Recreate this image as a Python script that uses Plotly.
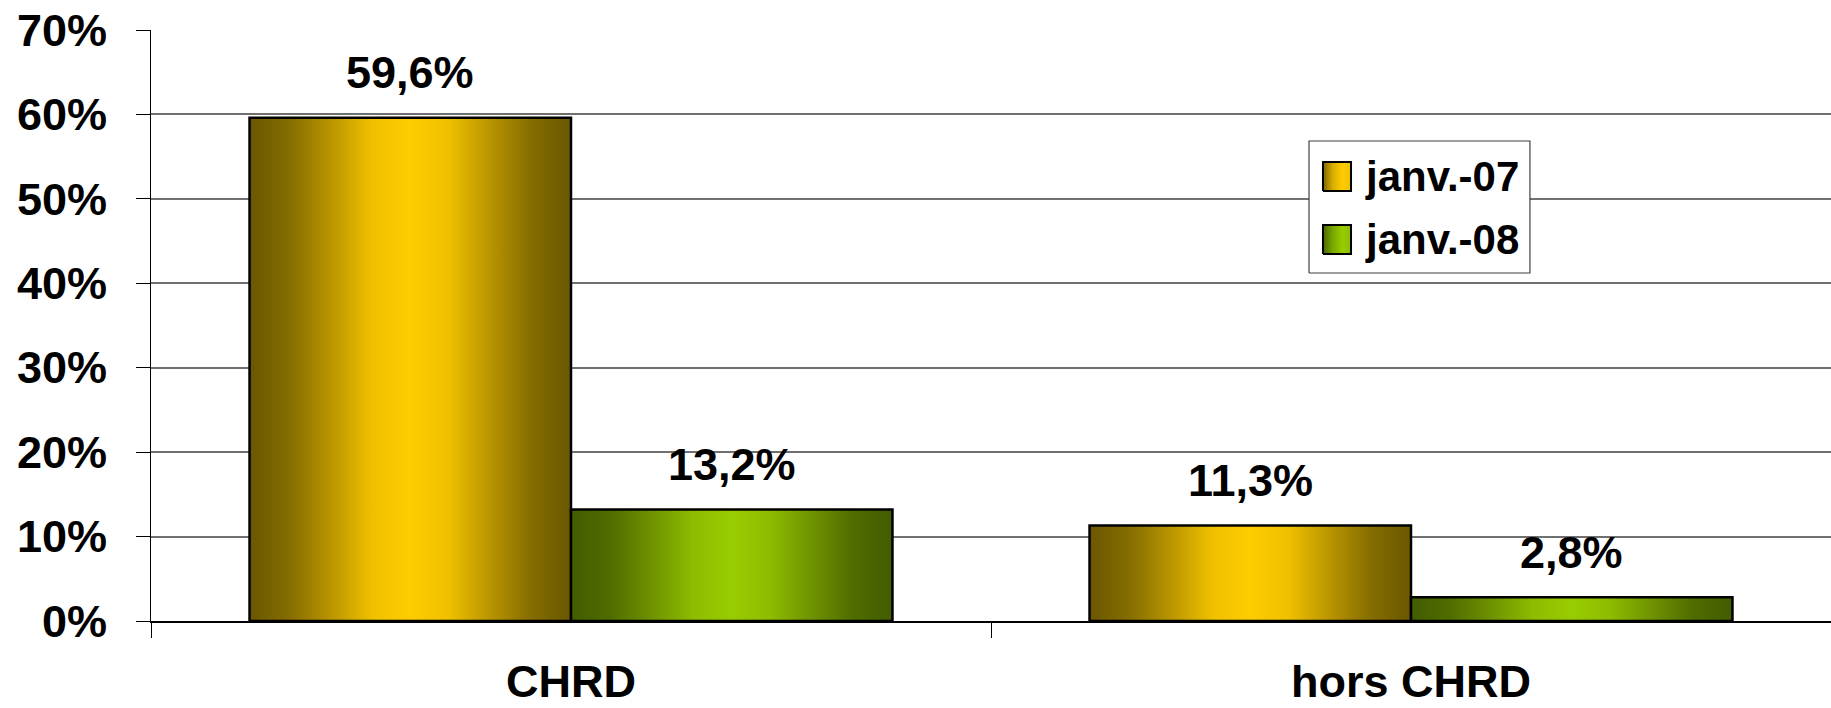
import plotly.graph_objects as go

# --- data -------------------------------------------------------------
categories = ["CHRD", "hors CHRD"]
series_names = ["janv.-07", "janv.-08"]
values_jan07 = [59.6, 11.3]
values_jan08 = [13.2, 2.8]
y_tick_values = [0, 10, 20, 30, 40, 50, 60, 70]

# --- styling ----------------------------------------------------------
FONT = "Arial, 'Liberation Sans', sans-serif"
GOLD_SCALE = [
    [0.00, "#6a5700"], [0.12, "#836c00"], [0.25, "#b89400"],
    [0.38, "#efc000"], [0.50, "#ffcc00"], [0.62, "#efc000"],
    [0.75, "#b89400"], [0.88, "#836c00"], [1.00, "#6a5700"],
]
GREEN_SCALE = [
    [0.00, "#435c00"], [0.12, "#4f6c00"], [0.25, "#6e9200"],
    [0.38, "#8dbc00"], [0.50, "#99cc00"], [0.62, "#8dbc00"],
    [0.75, "#6e9200"], [0.88, "#4f6c00"], [1.00, "#435c00"],
]
# swatch gradients are lighter on the right, as in the key
GOLD_SWATCH = [[0.0, "#7a6400"], [0.35, "#d8ae00"], [0.7, "#ffcc00"], [1.0, "#f0c000"]]
GREEN_SWATCH = [[0.0, "#4a6500"], [0.35, "#7aa800"], [0.7, "#99cc00"], [1.0, "#8cbc00"]]
BAR_WIDTH = 0.3827  # width of one bar in category units

series = [
    (series_names[0], values_jan07, GOLD_SCALE, GOLD_SWATCH, -1),
    (series_names[1], values_jan08, GREEN_SCALE, GREEN_SWATCH, 0),
]

# key box placement, as fractions of the plotting area
KEY_BOX = (0.6893, 0.8208, 0.5888, 0.8122)   # x0, x1, y0, y1
KEY_ROWS_Y = [0.7521, 0.6455]                # row centres
KEY_SWATCH_X = (0.6976, 0.7143)
KEY_SWATCH_H = 0.049
KEY_TEXT_X = 0.7214


def pct_label(v):
    return f"{v:.1f}".replace(".", ",") + "%"


fig = go.Figure()
annotations = []

for name, vals, scale, swatch, side in series:
    for i, v in enumerate(vals):
        x0 = i + side * BAR_WIDTH
        x1 = x0 + BAR_WIDTH
        fig.add_trace(go.Scatter(
            x=[x0, x1, x1, x0, x0],
            y=[0, 0, v, v, 0],
            mode="lines",
            fill="toself",
            fillgradient=dict(type="horizontal", colorscale=scale),
            line=dict(color="black", width=2.5),
            name=name, showlegend=False,
            hoverinfo="skip",
        ))
        annotations.append(dict(
            x=(x0 + x1) / 2, y=v, xref="x", yref="y",
            text=f"<b>{pct_label(v)}</b>", showarrow=False,
            yanchor="middle", yshift=45,
            font=dict(family=FONT, size=45, color="black"),
        ))

# --- key (drawn on an overlay axis spanning the plotting area) ----------
bx0, bx1, by0, by1 = KEY_BOX
fig.add_trace(go.Scatter(
    x=[bx0, bx1, bx1, bx0, bx0], y=[by0, by0, by1, by1, by0],
    xaxis="x2", yaxis="y2", mode="lines", fill="toself",
    fillcolor="white", line=dict(color="#404040", width=1.2),
    showlegend=False, hoverinfo="skip",
))
for (name, _, _, swatch, _), ry in zip(series, KEY_ROWS_Y):
    sx0, sx1 = KEY_SWATCH_X
    sy0, sy1 = ry - KEY_SWATCH_H / 2, ry + KEY_SWATCH_H / 2
    fig.add_trace(go.Scatter(
        x=[sx0, sx1, sx1, sx0, sx0], y=[sy0, sy0, sy1, sy1, sy0],
        xaxis="x2", yaxis="y2", mode="lines", fill="toself",
        fillgradient=dict(type="horizontal", colorscale=swatch),
        line=dict(color="black", width=2),
        showlegend=False, hoverinfo="skip",
    ))
    annotations.append(dict(
        x=KEY_TEXT_X, y=ry, xref="x2", yref="y2",
        text=f"<b>{name}</b>", showarrow=False,
        xanchor="left", yanchor="middle",
        font=dict(family=FONT, size=42, color="black"),
    ))

fig.update_layout(
    width=1831, height=708,
    margin=dict(l=151, r=0, t=30, b=87),
    paper_bgcolor="white", plot_bgcolor="white",
    font=dict(family=FONT, color="black"),
    annotations=annotations,
    showlegend=False,
    xaxis=dict(
        range=[-0.5, 1.5], automargin=False,
        tickmode="array", tickvals=[0, 1],
        ticktext=[f"<b>{c}</b>" for c in categories],
        tickfont=dict(family=FONT, size=45, color="black"),
        ticks="", ticklabelstandoff=20,
        showgrid=False, zeroline=False,
        showline=True, linecolor="black", linewidth=1.5,
        minor=dict(tickmode="array", tickvals=[-0.5, 0.5, 1.5],
                   ticks="outside", ticklen=15, tickcolor="black",
                   tickwidth=1, showgrid=False),
    ),
    yaxis=dict(
        range=[0, 70], automargin=False,
        tickmode="array", tickvals=y_tick_values,
        ticktext=[f"<b>{t}%</b>" for t in y_tick_values],
        tickfont=dict(family=FONT, size=45, color="black"),
        ticks="outside", ticklen=14, tickcolor="black", tickwidth=1,
        ticklabelstandoff=20,
        showgrid=True, gridcolor="#707070", gridwidth=1.5,
        zeroline=False,
        showline=True, linecolor="black", linewidth=1,
    ),
    xaxis2=dict(overlaying="x", range=[0, 1], visible=False, fixedrange=True),
    yaxis2=dict(overlaying="y", range=[0, 1], visible=False, fixedrange=True),
)

fig.write_html("out.html")
